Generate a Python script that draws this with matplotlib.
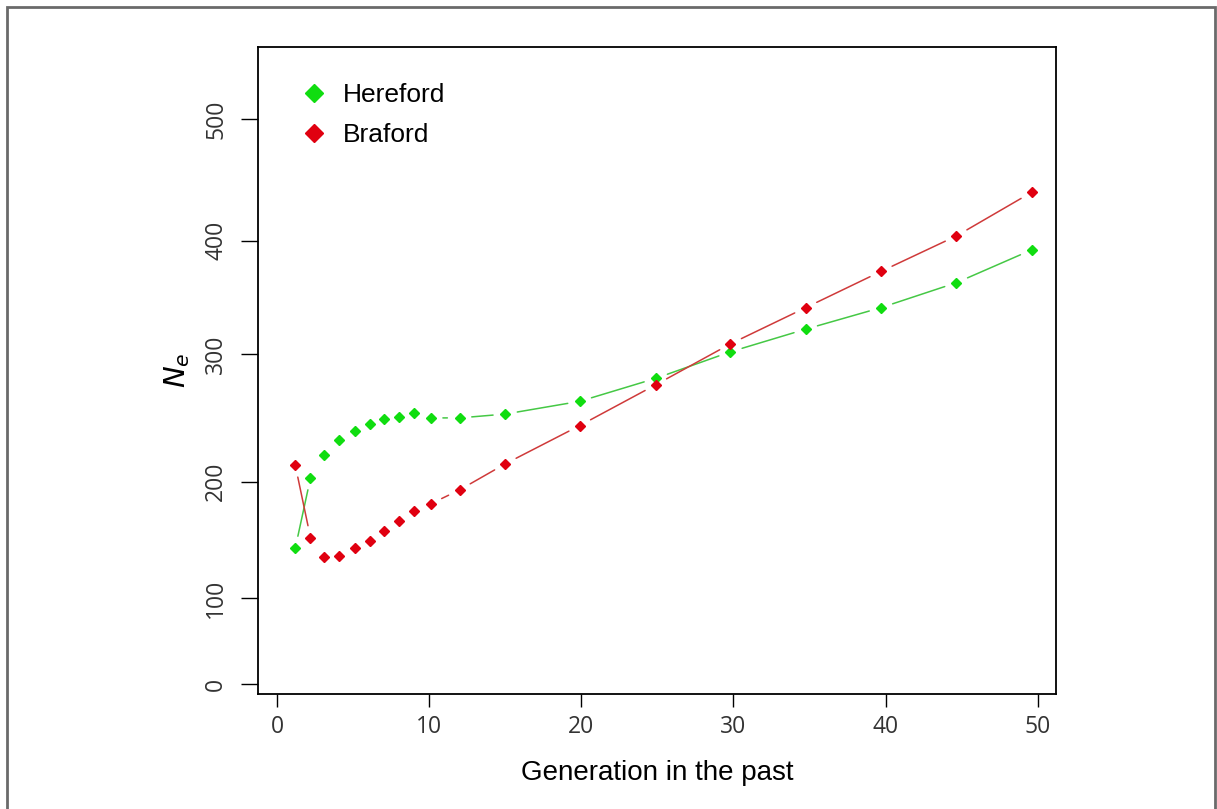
import numpy as np
import matplotlib
matplotlib.use("Agg")
import matplotlib.pyplot as plt
from matplotlib.patches import Rectangle

# generations in the past (x) and effective population size (y)
generation = [1.2, 2.2, 3.1, 4.1, 5.1, 6.1, 7.0, 8.0, 9.0, 10.1,
              12.0, 15.0, 19.9, 24.9, 29.8, 34.75, 39.7, 44.65, 49.6]
ne_hereford = [143, 203, 221, 233, 240, 245, 249, 251, 254, 250,
               250, 253, 263, 281, 302, 322, 341, 363, 392]
ne_braford = [213, 152, 135, 136, 143, 149, 158, 166, 175, 181,
              193, 214, 244, 276, 309, 341, 373, 404, 440]

series_names = ["Hereford", "Braford"]
x_ticks = [0, 10, 20, 30, 40, 50]
y_ticks = [0, 100, 200, 300, 400, 500]

# the y axis of the original is not evenly spaced: tick value -> relative height
scale_vals = np.array([-100.0, 0, 100, 200, 300, 400, 500, 700])
scale_pos = np.array([-85.7, 0, 85.7, 202.3, 330.0, 443.3, 564.7, 807.5])


def fwd(v):
    return np.interp(v, scale_vals, scale_pos)


def inv(p):
    return np.interp(p, scale_pos, scale_vals)


green = "#10dd10"
red = "#e00010"
line_green = "#45c845"
line_red = "#cf3a3a"

fig = plt.figure(figsize=(12.17, 8.09), dpi=100)
ax = fig.add_axes([0.212, 0.1422, 0.6557, 0.8001])
ax.set_yscale("function", functions=(fwd, inv))
ax.set_xlim(-1.25, 51.2)
ax.set_ylim(-11.7, 560)


# R style type="b": markers with line segments that stop short of each point
def draw_b(xs, ys, mcol, lcol, label):
    pts = ax.transData.transform(np.column_stack([xs, ys]))
    gap = 8.8  # points
    gap_px = gap * fig.dpi / 72.0
    for i in range(len(xs) - 1):
        d = np.hypot(*(pts[i + 1] - pts[i]))
        if d > 2 * gap_px + 4:
            ax.annotate("", xy=(xs[i + 1], ys[i + 1]), xytext=(xs[i], ys[i]),
                        arrowprops=dict(arrowstyle="-", color=lcol, lw=1.1,
                                        shrinkA=gap, shrinkB=gap))
    ax.plot(xs, ys, linestyle="none", marker="D", ms=5.3, color=mcol,
            mec=mcol, label=label)


draw_b(generation, ne_hereford, green, line_green, series_names[0])
draw_b(generation, ne_braford, red, line_red, series_names[1])

ax.set_xticks(x_ticks)
ax.set_yticks(y_ticks)
ax.minorticks_off()
ax.tick_params(axis="y", direction="out", length=12.5, width=1.0, pad=9,
               labelsize=16.5, labelcolor="#333333")
ax.tick_params(axis="x", direction="out", length=9, width=1.0, pad=6,
               labelsize=16.5, labelcolor="#333333")
for lab in ax.get_yticklabels():
    lab.set_rotation(90)
    lab.set_va("center")
    lab.set_family("Open Sans")
for lab in ax.get_xticklabels():
    lab.set_family("Open Sans")
for s in ax.spines.values():
    s.set_linewidth(1.3)

ax.set_xlabel("Generation in the past", fontsize=20, family="Liberation Sans",
              labelpad=15)
ax.set_ylabel("$N_e$", fontsize=21, labelpad=9)

leg = ax.legend(loc="upper left", bbox_to_anchor=(0.0373, 0.964), frameon=False,
                markerscale=1.75, handletextpad=0.6, borderpad=0,
                labelspacing=0.6, handlelength=1.0,
                prop={"family": "Liberation Sans", "size": 19})

# grey outer frame of the original image
fig.patches.append(Rectangle((7 / 1217, -0.05), 1208 / 1217, 1.05 - 7 / 809,
                             transform=fig.transFigure, fill=False,
                             edgecolor="#6a6a6a", lw=2.0))

fig.savefig("out.png", dpi=100)
